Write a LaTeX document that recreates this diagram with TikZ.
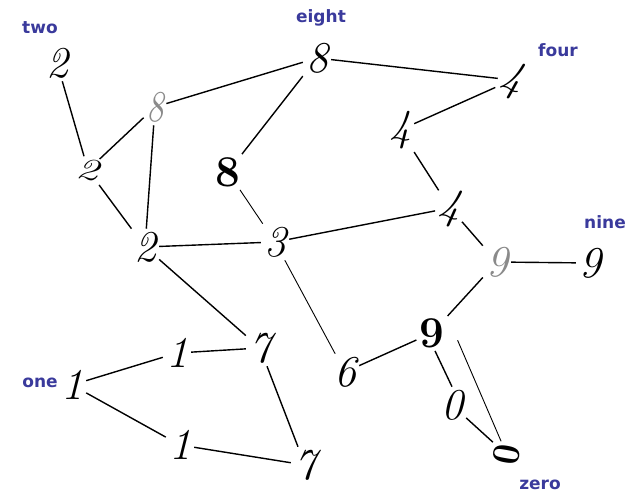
\documentclass[tikz,border=0pt]{standalone}
\usepackage{fontspec}
\newfontfamily\labelfont{DejaVu Sans}[BoldFont={DejaVu Sans Bold}]
\definecolor{lblBlue}{HTML}{3A3A9C}
\definecolor{faintGray}{HTML}{8A8A8A}

\begin{document}
\begin{tikzpicture}[x=1pt, y=-1pt,
    digit/.style={inner sep=3pt, font=\fontsize{44}{44}\selectfont\itshape},
    heavy/.style={font=\fontsize{44}{44}\selectfont\bfseries},
    faint/.style={text=faintGray},
    tag/.style={text=lblBlue, font=\labelfont\bfseries\fontsize{17}{17}\selectfont},
    edge/.style={line width=1.4pt},
    thinedge/.style={line width=0.9pt}]
        \useasboundingbox (0,0) rectangle (639,494);
        \node[digit] (twoA) at (57,63) {2};
        \node[digit, rotate=-10, yscale=0.7] (twoB) at (88,170) {2};
        \node[digit, faint, xscale=0.8] (eightA) at (155,107) {8};
        \node[digit] (eightTop) at (317,58) {8};
        \node[digit, rotate=-15] (fourTop) at (512,80) {4};
        \node[digit] (fourMid) at (400,130) {4};
        \node[digit, heavy] (eightMid) at (228,172) {8};
        \node[digit] (three) at (275,242) {3};
        \node[digit] (twoC) at (145,247) {2};
        \node[digit, rotate=-10] (fourLow) at (450,208) {4};
        \node[digit, faint] (nineG) at (497,262) {9};
        \node[digit] (nineR) at (590,263) {9};
        \node[digit, heavy] (nineB) at (432,333) {9};
        \node[digit] (six) at (345,372) {6};
        \node[digit] (zero) at (452,405) {0};
        \node[digit, heavy, rotate=80, xscale=0.8, yscale=0.9] (zeroZ) at (507,455) {0};
        \node[digit] (sevenU) at (260,348) {7};
        \node[digit] (oneM) at (177,353) {1};
        \node[digit] (oneL) at (72,385) {1};
        \node[digit] (oneLow) at (180,445) {1};
        \node[digit] (sevenLow) at (305,465) {7};
        \node[tag] (tagTwo) at (40,28) {two};
        \node[tag] (tagEight) at (321,18) {eight};
        \node[tag] (tagFour) at (558,50) {four};
        \node[tag] (tagNine) at (605,222) {nine};
        \node[tag] (tagOne) at (40,383) {one};
        \node[tag] (tagZero) at (540,485) {zero};
        \draw[edge] (twoA) -- (twoB);
        \draw[edge] (twoB) -- (eightA);
        \draw[edge] (eightA) -- (eightTop);
        \draw[edge] (eightA) -- (twoC);
        \draw[edge] (twoB) -- (twoC);
        \draw[edge] (eightTop) -- (eightMid);
        \draw[edge] (eightTop) -- (fourTop);
        \draw[edge] (fourTop) -- (fourMid);
        \draw[edge] (fourMid) -- (fourLow);
        \draw[thinedge] (eightMid) -- (three);
        \draw[edge] (twoC) -- (three);
        \draw[edge] (three) -- (fourLow);
        \draw[edge] (fourLow) -- (nineG);
        \draw[edge] (nineG) -- (nineR);
        \draw[edge] (nineG) -- (nineB);
        \draw[thinedge] (three) -- (six);
        \draw[edge] (six) -- (nineB);
        \draw[edge] ([xshift=3pt]nineB.south) -- (zero.north);
        \draw[thinedge] ([xshift=10pt]nineB.-25) -- (zeroZ);
        \draw[edge] (zero) -- (zeroZ);
        \draw[edge] (twoC) -- (sevenU);
        \draw[edge] (sevenU) -- (oneM);
        \draw[edge] (oneM) -- (oneL);
        \draw[edge] (oneL) -- (oneLow);
        \draw[edge] (oneLow) -- (sevenLow);
        \draw[edge] (sevenU) -- (sevenLow);
      \end{tikzpicture}
\end{document}
